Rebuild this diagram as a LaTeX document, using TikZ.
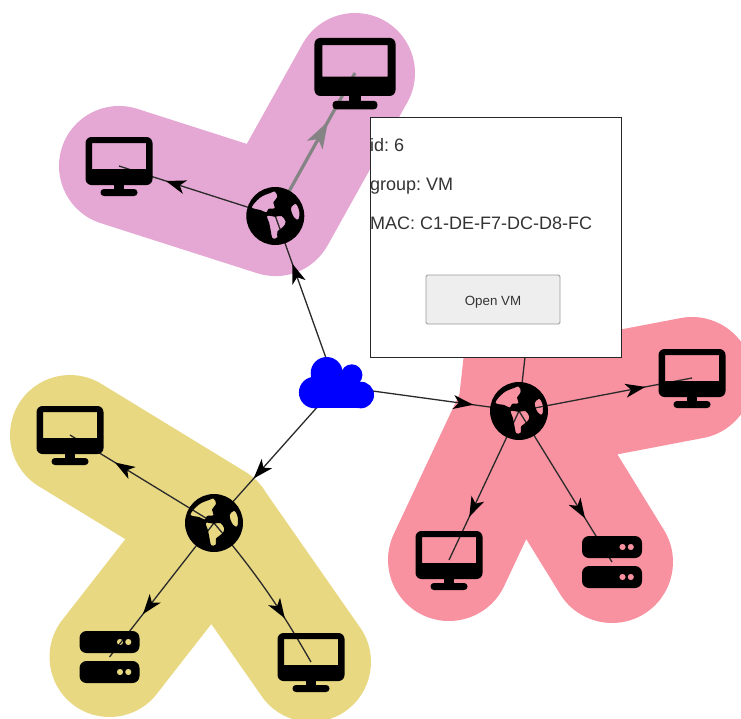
\documentclass[tikz,border=0pt]{standalone}
\usepackage{fontspec}
\setmainfont{Liberation Sans}
\usetikzlibrary{decorations.markings}
\definecolor{blobpink}{HTML}{E5A7D3}
\definecolor{blobyellow}{HTML}{E8D882}
\definecolor{blobred}{HTML}{F892A0}
\definecolor{edgedark}{HTML}{2A2A2A}
\definecolor{edgegray}{HTML}{848484}
\definecolor{poptext}{HTML}{333333}
\tikzset{
  blob/.style={line width=120pt,line cap=round,line join=round},
  tipat/.style={postaction={decorate,decoration={markings,mark=at position #1 with {\fill[black] (0,0) -- (-20,7) -- (-14.5,0) -- (-20,-7) -- cycle;}}}},
  bigtipat/.style={postaction={decorate,decoration={markings,mark=at position #1 with {\fill[edgegray] (0,0) -- (-27,9) -- (-20,0) -- (-27,-9) -- cycle;}}}},
  edge/.style={draw=edgedark,line width=1.3pt},
  hotedge/.style={draw=edgegray,line width=3.2pt},
  poptextstyle/.style={anchor=base west,inner sep=0pt,text=poptext,font=\fontsize{18}{20}\selectfont},
  moni/.pic={
    \fill[black,even odd rule,rounded corners=6pt] (-33.5,-29) rectangle (33.5,19) [sharp corners] (-27,-23) rectangle (27,3);
    \fill[black] (-5,18) rectangle (5,25);
    \fill[black,rounded corners=3.4pt] (-18.5,23) rectangle (18.5,30);
  },
  serv/.pic={
    \fill[black,even odd rule,rounded corners=7pt] (-30,-26) rectangle (30,-4) [sharp corners]
      (10.5,-15) circle (3.2) (18.8,-15) circle (3.2);
    \fill[black,even odd rule,rounded corners=7pt] (-30,4) rectangle (30,26) [sharp corners]
      (10.5,15) circle (3.2) (18.8,15) circle (3.2);
  },
  earth/.pic={
    \fill[black,even odd rule] (0,0) circle (29)
      plot[smooth cycle,tension=0.6] coordinates {(-23.5,-8.5) (-15,-18.5) (-5,-23) (-0.3,-24.3) (2,-19) (-2,-13.5) (-0.5,-8) (-7,-7) (-9,-3.5) (-15,-6)}
      plot[smooth cycle,tension=0.6] coordinates {(-8,0) (0,0.7) (6.3,0) (10.3,5.7) (8,10.7) (2,15.7) (2,21.3) (-2.7,22.3) (-4.7,14) (-6,7.3)}
      plot[smooth cycle,tension=0.6] coordinates {(15.7,-7.7) (20.7,-12) (24,-4.3) (23,3.3) (18.7,1.3)};
  },
  cloudicon/.pic={
    \fill[blue] (-21.3,6.5) circle (15.8);
    \fill[blue] (-9.3,-13) circle (16);
    \fill[blue] (15.7,-11) circle (10.7);
    \fill[blue] (24.7,9) circle (13.3);
    \fill[blue] (-21.3,6) rectangle (24.7,22.3);
    \fill[blue] (-9,-13) rectangle (20,10);
  }
}
\begin{document}
\frenchspacing
\begin{tikzpicture}[x=1pt,y=-1pt]
\clip (0,0) rectangle (741,718);
\coordinate (cloud) at (336,386);
\coordinate (gp) at (275.3,216);
\coordinate (pa) at (355,73);
\coordinate (pb) at (119,166);
\coordinate (gy) at (214,523);
\coordinate (ya) at (70,435);
\coordinate (yb) at (109.5,657);
\coordinate (yc) at (311,662);
\coordinate (gr) at (519,411);
\coordinate (ra) at (692,378);
\coordinate (rb) at (449,560);
\coordinate (rc) at (612,562);
\coordinate (rd) at (528,330);
% groups
\draw[blob,blobpink] (pa) -- (gp) -- (pb);
\draw[blob,blobyellow] (ya) -- (gy) -- (yb) (gy) -- (yc);
\draw[blob,line width=122pt,blobred] (ra) -- (gr) -- (rb) (gr) -- (rc) (gr) -- (rd);
% connectors
\path[edge,tipat=0.72] (cloud) -- (gp);
\path[edge,tipat=0.675] (cloud) -- (gy);
\path[edge,tipat=0.75] (cloud) -- (gr);
\path[edge,tipat=0.70] (gp) -- (pb);
\path[hotedge,bigtipat=0.66] (gp) -- (pa);
\path[edge,tipat=0.6875] (gy) -- (ya);
\path[edge,tipat=0.68] (gy) -- (yb);
\path[edge,tipat=0.70] (gy) to[bend left=5] (yc);
\path[edge,tipat=0.73] (gr) -- (ra);
\path[edge,tipat=0.71] (gr) -- (rb);
\path[edge,tipat=0.71] (gr) -- (rc);
\path[edge] (gr) -- (rd);
% icons
\pic at (cloud) {cloudicon};
\pic at (gp) {earth};
\pic at (gy) {earth};
\pic at (gr) {earth};
\pic[scale=1.21] at (pa) {moni};
\pic at (pb) {moni};
\pic at (ya) {moni};
\pic at (yc) {moni};
\pic at (ra) {moni};
\pic at (rb) {moni};
\pic at (yb) {serv};
\pic at (rc) {serv};
% popup
\node[draw=black!85,line width=1pt,fill=white,minimum width=251pt,minimum height=240pt,inner sep=0pt,anchor=north west] (popup) at (370,117) {};
\node[poptextstyle] (l1) at (370,151) {id: 6};
\node[poptextstyle] (l2) at (370,190) {group: VM};
\node[poptextstyle] (l3) at (370,229) {MAC: C1-DE-F7-DC-D8-FC};
\node[draw=black!40,line width=0.9pt,fill=black!6.5,rounded corners=1.5pt,minimum width=134pt,minimum height=49pt,inner sep=0pt,text=poptext,text height=11pt,text depth=0pt,font=\fontsize{13.33}{15}\selectfont] (btn) at (493,299.5) {Open VM};
\end{tikzpicture}
\end{document}
